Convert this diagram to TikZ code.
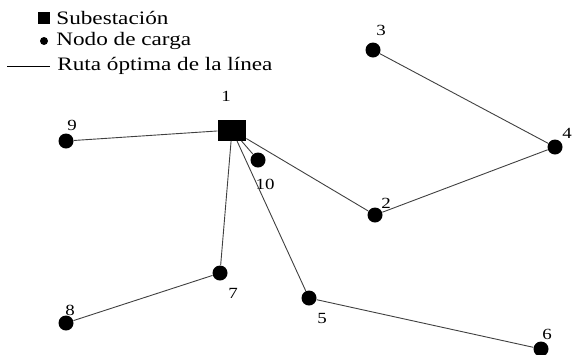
\documentclass[tikz,border=0pt]{standalone}
\usepackage{fontspec}
\setmainfont{Liberation Serif}
\usepackage{graphicx}
\usepackage{tikz}
\usetikzlibrary{positioning}

\newcommand{\ancho}[1]{\scalebox{1.22}[1]{#1}}

\begin{document}
\begin{tikzpicture}[x=1pt,y=-1pt,thick]
\tikzstyle{carga}=[circle, fill=black, inner sep=0pt, minimum size=15pt]
\tikzstyle{sub}=[rectangle, fill=black, inner sep=0pt, minimum width=28pt, minimum height=21pt]
\tikzstyle{num}=[inner sep=0pt, font=\fontsize{15.5}{15.5}\selectfont]
\tikzstyle{ley}=[inner sep=0pt, anchor=west, font=\fontsize{19}{21}\selectfont]
\tikzstyle{ruta}=[draw=black!75, line width=0.9pt]
\useasboundingbox (0,0) rectangle (572,354);
% leyenda
\node[rectangle, fill=black, inner sep=0pt, minimum size=12pt] (lsub) at (44,18) {};
\node[ley] (tsub) at (56,18) {\ancho{Subestación}};
\node[circle, fill=black, inner sep=0pt, minimum size=8pt] (lcarga) at (44,41) {};
\node[ley] (tcarga) at (56,41) {\ancho{Nodo de carga}};
\coordinate (la) at (7,66);
\coordinate (lb) at (50,66);
\node[ley] (truta) at (57,66) {\ancho{Ruta óptima de la línea}};
\draw[line width=0.8pt] (la) -- (lb);
% nodos
\node[sub] (n1) at (232,130) {};
\node[carga] (n2) at (375,215) {};
\node[carga] (n3) at (373,50) {};
\node[carga] (n4) at (555,147) {};
\node[carga] (n5) at (309,298) {};
\node[carga] (n6) at (541,349) {};
\node[carga] (n7) at (220,273) {};
\node[carga] (n8) at (66,323) {};
\node[carga] (n9) at (66,141) {};
\node[carga] (n10) at (258,160) {};
% etiquetas
\node[num] (e1) at (226,96) {\ancho{1}};
\node[num] (e2) at (386,203) {\ancho{2}};
\node[num] (e3) at (381,30) {\ancho{3}};
\node[num] (e4) at (567,133) {\ancho{4}};
\node[num] (e5) at (322,318) {\ancho{5}};
\node[num] (e6) at (547,334) {\ancho{6}};
\node[num] (e7) at (233,293) {\ancho{7}};
\node[num] (e8) at (70,310) {\ancho{8}};
\node[num] (e9) at (72,125) {\ancho{9}};
\node[num] (e10) at (265,184) {\ancho{10}};
% rutas
\draw[ruta] (n1) -- (n9);
\draw[ruta] (n1) -- (n10);
\draw[ruta] (n1) -- (n2);
\draw[ruta] (n2) -- (n4);
\draw[ruta] (n4) -- (n3);
\draw[ruta] (n1) -- (n7);
\draw[ruta] (n7) -- (n8);
\draw[ruta] (n1) -- (n5);
\draw[ruta] (n5) -- (n6);
\end{tikzpicture}
\end{document}
